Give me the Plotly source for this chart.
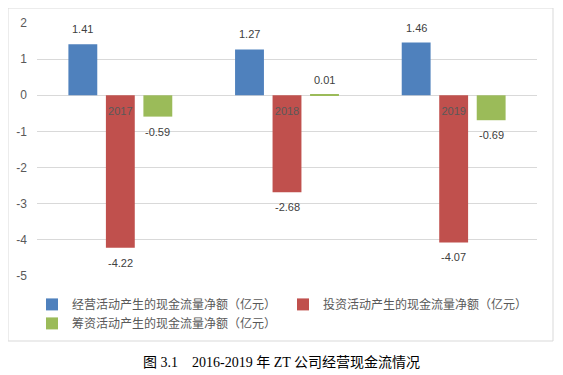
import plotly.graph_objects as go

years = ["2017", "2018", "2019"]
operating = [1.41, 1.27, 1.46]
investing = [-4.22, -2.68, -4.07]
financing = [-0.59, 0.01, -0.69]
series_names = [
    "经营活动产生的现金流量净额（亿元）",
    "投资活动产生的现金流量净额（亿元）",
    "筹资活动产生的现金流量净额（亿元）",
]
colors = ["#4F81BD", "#C0504D", "#9BBB59"]
y_ticks = [2, 1, 0, -1, -2, -3, -4, -5]
caption = "图 3.1&#160;&#160;&#160;&#160;2016-2019 年 ZT 公司经营现金流情况"

num_font = "Liberation Sans, Arial, sans-serif"
cjk_font = "Noto Sans CJK SC, sans-serif"

# page body has an 8px margin, so the figure itself is 8px smaller in each direction
W, H = 555, 367
ML, MT, PW, PH = 29, 15, 500, 253
slot_px = 37.5  # pixel spacing between bars in a group (style)

fig = go.Figure()
annotations = []
all_series = [operating, investing, financing]
for j, (name, vals, c) in enumerate(zip(series_names, all_series, colors)):
    fig.add_trace(go.Bar(
        x=years, y=vals, name=name, marker=dict(color=c, line=dict(width=0)),
    ))
    for i, v in enumerate(vals):
        # category axes place annotations by category index
        annotations.append(dict(
            x=i, y=v, xref="x", yref="y", text=f"{v:.2f}", showarrow=False,
            xshift=(j - 1) * slot_px, yshift=15 if v >= 0 else -15,
            xanchor="center", yanchor="middle",
            font=dict(family=num_font, size=11, color="#404040"),
        ))

annotations.append(dict(
    text=caption, xref="paper", yref="paper",
    x=(273 - ML) / PW, y=-(354 - (MT + PH)) / PH, xanchor="center", yanchor="middle",
    showarrow=False,
    font=dict(family="Liberation Serif, Noto Sans CJK SC, serif", size=14, color="black"),
))

fig.update_layout(
    width=W, height=H,
    margin=dict(l=ML, r=W - ML - PW, t=MT, b=H - MT - PH, autoexpand=False),
    paper_bgcolor="white", plot_bgcolor="white",
    barmode="group", bargap=0.325, bargroupgap=0.23,
    showlegend=True,
    legend=dict(
        orientation="h", x=-0.01, xanchor="left", y=-0.055, yanchor="top",
        font=dict(family=cjk_font, size=12, color="#595959"),
        entrywidth=206, itemwidth=30, tracegroupgap=0,
    ),
    xaxis=dict(
        type="category", range=[-0.5, len(years) - 0.5],
        anchor="free", position=5/7, showline=False, ticks="",
        showgrid=False, zeroline=False, ticklabelstandoff=8,
        tickfont=dict(family=num_font, size=11, color="#595959"),
    ),
    yaxis=dict(
        range=[-5, 2], tickvals=y_ticks, ticktext=[str(t) for t in y_ticks],
        showgrid=True, gridcolor="#D9D9D9", gridwidth=1,
        zeroline=True, zerolinecolor="#D9D9D9", zerolinewidth=1,
        showline=False, ticks="", ticklabelstandoff=9,
        tickfont=dict(family=num_font, size=12, color="#595959"),
    ),
    shapes=[dict(
        type="rect", xref="paper", yref="paper",
        x0=(0 - ML) / PW, x1=(545 - ML) / PW,
        y0=-(333 - (MT + PH)) / PH, y1=1 + (MT - 0) / PH,
        line=dict(color="#D9D9D9", width=1), layer="below",
    )],
    annotations=annotations,
)

fig.write_html("out.html")
